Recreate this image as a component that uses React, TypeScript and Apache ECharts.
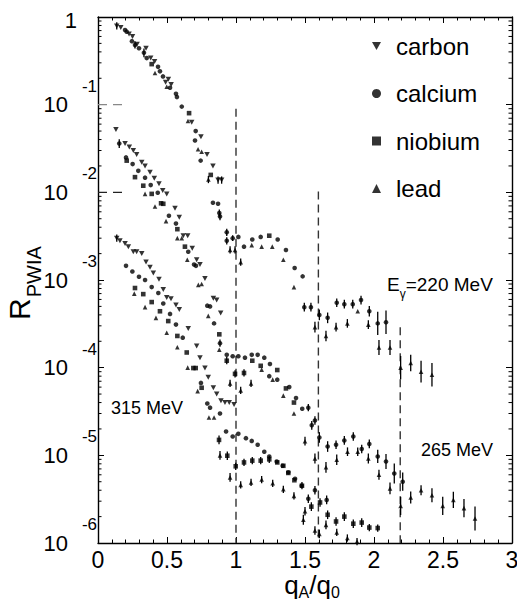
import React, { useEffect, useRef } from "react";
import * as echarts from "echarts";

// [q_A/q_0, R_PWIA, relative error (0 = none)]
const C220 = [[0.136,0.79,0.1],[0.165,0.76,0],[0.225,0.64,0],[0.25,0.6,0],[0.283,0.49,0],[0.348,0.44,0],[0.382,0.34,0],[0.41,0.31,0],[0.49,0.18,0],[0.51,0.195,0],[0.53,0.17,0],[0.679,0.063,0],[0.746,0.043,0],[0.79,0.027,0],[0.833,0.02,0],[0.87,0.0138,0.1],[0.896,0.0138,0.1]];
const CA220 = [[0.196,0.71,0],[0.208,0.68,0],[0.246,0.53,0],[0.268,0.48,0.1],[0.297,0.44,0],[0.333,0.39,0.12],[0.353,0.34,0],[0.435,0.27,0],[0.449,0.24,0],[0.471,0.21,0],[0.522,0.156,0],[0.565,0.133,0],[0.572,0.122,0],[0.607,0.095,0],[0.708,0.05,0],[0.703,0.039,0],[0.744,0.023,0],[0.833,0.0076,0],[0.87,0.0074,0],[0.879,0.0058,0.1],[0.884,0.0053,0.1],[0.933,0.0035,0.1],[0.933,0.0028,0.1],[0.976,0.003,0.08],[1.017,0.0031,0],[1.058,0.0024,0],[1.118,0.0029,0],[1.179,0.0031,0],[1.302,0.0029,0],[1.362,0.0022,0],[1.425,0.00137,0],[1.483,0.0011,0],[1.495,4.9e-4,0.12],[1.543,4.9e-4,0.12],[1.604,4.0e-4,0.15],[1.664,3.7e-4,0.15],[1.73,5.5e-4,0.12],[1.785,5.3e-4,0.12],[1.846,5.3e-4,0.12],[1.906,5.9e-4,0.12],[1.966,4.4e-4,0.15],[2.027,3.2e-4,0.36],[2.087,3.3e-4,0.36]];
const NB220 = [[0.389,0.29,0],[0.66,0.08,0],[0.817,0.0158,0],[1.241,0.0032,0]];
const PB220 = [[0.413,0.23,0],[0.498,0.16,0],[0.652,0.065,0],[0.725,0.031,0],[0.751,0.029,0],[0.8,0.014,0.1],[0.957,0.0022,0.1],[0.993,0.0022,0.1],[1.034,0.0016,0.1],[1.114,0.0025,0],[1.186,0.0024,0],[1.263,0.0024,0],[1.343,0.0017,0],[1.42,8.3e-4,0],[1.572,2.9e-4,0.15],[1.652,2.3e-4,0.15],[1.725,2.9e-4,0.12],[1.807,3.2e-4,0.12],[1.882,4.4e-4,0],[1.959,3.1e-4,0.12],[2.036,1.7e-4,0.22],[2.116,1.7e-4,0.22],[2.193,1.0e-4,0.36],[2.266,1.13e-4,0.24],[2.341,9.0e-5,0.33],[2.42,8.3e-5,0.36]];

const C265 = [[0.13,0.052,0],[0.196,0.036,0],[0.227,0.033,0],[0.256,0.03,0],[0.28,0.027,0],[0.317,0.022,0],[0.341,0.02,0],[0.377,0.017,0],[0.408,0.0145,0],[0.442,0.0125,0],[0.469,0.0105,0],[0.498,0.0096,0],[0.558,0.0066,0],[0.589,0.0052,0],[0.618,0.0032,0],[0.65,0.0032,0],[0.683,0.0023,0],[0.715,0.0017,0],[0.739,0.0015,0],[0.775,0.00104,0],[0.836,6.2e-4,0],[0.86,5.9e-4,0],[0.889,4.2e-4,0]];
const CA265 = [[0.154,0.036,0.12],[0.203,0.025,0],[0.251,0.021,0],[0.292,0.0176,0],[0.341,0.0147,0],[0.382,0.0121,0],[0.433,0.0099,0],[0.514,0.0054,0],[0.565,0.0044,0],[0.654,0.0021,0],[0.696,0.0015,0],[0.71,0.00145,0],[0.792,5.1e-4,0],[0.812,5.0e-4,0],[0.841,3.2e-4,0],[0.884,1.9e-4,0.1],[0.933,1.4e-4,0],[0.976,1.35e-4,0],[1.017,1.35e-4,0],[1.065,1.3e-4,0],[1.114,1.4e-4,0],[1.157,1.4e-4,0],[1.205,1.3e-4,0],[1.246,1.1e-4,0],[1.241,8.0e-5,0],[1.299,7.3e-5,0],[1.386,6.0e-5,0],[1.435,4.5e-5,0],[1.48,3.4e-5,0],[1.524,3.5e-5,0.1],[1.549,2.2e-5,0.12],[1.572,2.5e-5,0.12],[1.604,1.6e-5,0.15],[1.664,1.26e-5,0.15],[1.725,1.32e-5,0.12],[1.785,1.48e-5,0.12],[1.85,1.64e-5,0.12],[1.911,1.18e-5,0.12],[1.966,1.35e-5,0.12],[2.027,9.7e-6,0.19],[2.087,8.5e-6,0.22],[2.147,6.2e-6,0.3],[2.208,5.0e-6,0.27]];
const NB265 = [[0.208,0.023,0],[0.268,0.0149,0],[0.328,0.0119,0],[0.389,0.0096,0],[0.457,0.0075,0],[0.473,0.0074,0],[0.575,0.0038,0],[0.63,0.0024,0],[0.879,2.4e-4,0],[0.933,1.2e-4,0.1],[0.993,8.5e-5,0.1],[1.058,8.7e-5,0.1],[1.118,1.2e-4,0],[1.179,1.05e-4,0],[1.299,9.4e-5,0],[1.362,5.8e-5,0],[1.42,4.0e-5,0]];
const PB265 = [[0.341,0.0096,0],[0.413,0.0069,0],[0.493,0.0047,0],[0.575,0.003,0],[0.607,0.003,0],[0.647,0.0017,0],[0.727,8.8e-4,0],[0.751,9.0e-4,0],[0.799,3.9e-4,0],[0.879,1.6e-4,0],[0.957,6.6e-5,0.1],[1.034,5.5e-5,0.1],[1.109,6.6e-5,0.1],[1.186,9.5e-5,0],[1.266,7.3e-5,0],[1.343,4.8e-5,0],[1.42,3.0e-5,0],[1.5,1.45e-5,0.12],[1.572,9.2e-6,0.14],[1.652,7.3e-6,0.15],[1.73,8.9e-6,0.15],[1.808,1.1e-5,0.12],[1.882,1.1e-5,0.12],[1.959,9.2e-6,0.14],[2.036,6.0e-6,0.14],[2.116,4.2e-6,0.17],[2.193,2.65e-6,0.27],[2.266,3.3e-6,0.17],[2.341,4.0e-6,0.14],[2.42,3.5e-6,0.2],[2.498,2.65e-6,0.27],[2.575,3.1e-6,0.24],[2.652,2.5e-6,0.27],[2.732,1.9e-6,0.37]];

const C315 = [[0.136,0.003,0.1],[0.159,0.0028,0],[0.196,0.0026,0],[0.22,0.0024,0],[0.256,0.0021,0],[0.28,0.0021,0],[0.317,0.002,0],[0.348,0.0016,0],[0.377,0.0014,0],[0.401,0.0012,0],[0.442,0.00102,0],[0.473,7.8e-4,0],[0.498,6.3e-4,0],[0.529,6.1e-4,0],[0.565,5.2e-4,0],[0.589,4.6e-4,0],[0.654,2.8e-4,0],[0.715,1.77e-4,0],[0.739,1.3e-4,0],[0.775,9.9e-5,0],[0.799,7.8e-5,0],[0.836,5.9e-5,0],[0.86,5.0e-5,0],[0.891,4.2e-5,0],[0.92,4.0e-5,0],[0.951,4.0e-5,0],[0.986,3.8e-5,0]];
const CA315 = [[0.203,0.00145,0],[0.249,0.00125,0],[0.297,0.00109,0],[0.341,0.001,0],[0.389,8.3e-4,0],[0.437,7.1e-4,0],[0.473,5.4e-4,0],[0.522,4.1e-4,0],[0.565,3.1e-4,0],[0.614,2.2e-4,0],[0.746,6.7e-5,0],[0.792,3.9e-5,0],[0.812,3.5e-5,0],[0.884,3.0e-5,0],[0.928,1.87e-5,0],[0.976,1.64e-5,0],[1.017,1.76e-5,0],[1.072,1.57e-5,0],[1.114,1.46e-5,0],[1.157,1.32e-5,0],[1.205,1.1e-5,0],[1.241,9.7e-6,0],[1.295,8.5e-6,0],[1.338,7.6e-6,0],[1.379,6.4e-6,0],[1.428,5.4e-6,0],[1.476,4.5e-6,0],[1.524,3.2e-6,0.12],[1.572,4.0e-6,0.12],[1.657,3.1e-6,0.12]];
const NB315 = [[0.268,8.1e-4,0],[0.328,6.9e-4,0],[0.389,5.6e-4,0],[0.449,4.4e-4,0],[0.509,3.4e-4,0],[0.575,2.3e-4,0],[0.643,1.49e-4,0],[0.691,9.9e-5,0],[0.708,9.9e-5,0],[0.751,5.9e-5,0],[0.877,1.5e-5,0.12],[0.937,9.9e-6,0.12],[0.998,7.5e-6,0.1],[1.058,8.3e-6,0.1],[1.118,8.7e-6,0.1],[1.179,8.7e-6,0.1],[1.241,9.0e-6,0.1],[1.299,8.3e-6,0],[1.343,7.6e-6,0],[1.379,6.3e-6,0],[1.423,5.2e-6,0],[1.478,4.5e-6,0.1],[1.546,2.6e-6,0.12],[1.609,2.9e-6,0.12],[1.664,2.1e-6,0.12],[1.725,1.76e-6,0.12],[1.785,2.0e-6,0.12],[1.85,1.66e-6,0.12],[1.911,1.71e-6,0.12],[1.966,1.5e-6,0.1],[2.027,1.48e-6,0.1]];
const PB315 = [[0.263,7.0e-4,0],[0.341,4.9e-4,0],[0.42,3.7e-4,0],[0.498,2.5e-4,0],[0.575,1.71e-4,0],[0.65,1.0e-4,0],[0.722,5.4e-5,0],[0.804,2.7e-5,0],[0.841,2.7e-5,0],[0.884,1.0e-5,0.12],[0.957,5.6e-6,0.12],[1.034,4.6e-6,0.1],[1.109,4.9e-6,0.1],[1.186,5.3e-6,0.1],[1.266,4.8e-6,0.1],[1.343,4.1e-6,0.1],[1.42,3.45e-6,0.1],[1.488,1.84e-6,0.14],[1.5,2.3e-6,0.12],[1.572,1.39e-6,0.12],[1.604,1.27e-6,0.12],[1.652,1.61e-6,0.12],[1.73,1.32e-6,0.1],[1.807,1.14e-6,0.1],[1.877,1.04e-6,0.1]];

const ELEMENTS = ["carbon", "calcium", "niobium", "lead"];
const GROUPS = [
  [C220, CA220, NB220, PB220],
  [C265, CA265, NB265, PB265],
  [C315, CA315, NB315, PB315],
];
const SYMBOLS = ["path://M0,0L10,0L5,9Z", "circle", "rect", "triangle"];

// dashed guide lines: [x, top y]
const VLINES = [[1.0, 0.09], [1.597, 0.0102], [2.19, 2.9e-4]];
const HDASH = [[0.1, 0.21, "#888"], [0.01, 0.2, "#222"]];

const Y_MIN = 1e-6;
const Y_MAX = 1;
const MINOR_TICKS: number[] = [];
for (let e = -6; e < 0; e++) for (let k = 2; k <= 9; k++) MINOR_TICKS.push(k * Math.pow(10, e));

const FONT = '"Liberation Sans", Arial, Helvetica, sans-serif';

export default function App() {
  const ref = useRef<HTMLDivElement>(null);
  useEffect(() => {
    if (!ref.current) return;
    const chart = echarts.init(ref.current, null, { renderer: "svg" });

    const series: any[] = [];
    GROUPS.forEach((g) => {
      g.forEach((pts, i) => {
        series.push({
          type: "scatter",
          name: ELEMENTS[i],
          data: pts.map((p) => [p[0], p[1]]),
          symbol: SYMBOLS[i],
          symbolSize: i === 0 ? [5.5, 5] : 4.6,
          itemStyle: { color: "#000" },
          z: 4,
        });
      });
    });

    const errData: number[][] = [];
    GROUPS.forEach((g) => g.forEach((pts) => pts.forEach((p) => {
      if (p[2] > 0) errData.push([p[0], p[1] / (1 + p[2]), p[1] * (1 + p[2])]);
    })));

    series.push({
      type: "custom",
      name: "errors",
      data: errData,
      encode: { x: 0, y: [1, 2] },
      silent: true,
      z: 3,
      renderItem: (params: any, api: any) => {
        const x = api.value(0);
        const a = api.coord([x, api.value(1)]);
        const b = api.coord([x, api.value(2)]);
        return { type: "line", shape: { x1: a[0], y1: a[1], x2: b[0], y2: b[1] }, style: { stroke: "#000", lineWidth: 1.3 } };
      },
    });

    series.push({
      type: "custom",
      name: "minorTicks",
      data: MINOR_TICKS.map((v) => [0, v]),
      encode: { x: 0, y: 1 },
      silent: true,
      clip: false,
      renderItem: (params: any, api: any) => {
        const cs = params.coordSys;
        const p = api.coord([0, api.value(1)]);
        return {
          type: "group",
          children: [
            { type: "line", shape: { x1: cs.x, y1: p[1], x2: cs.x + 3.5, y2: p[1] }, style: { stroke: "#000", lineWidth: 1 } },
            { type: "line", shape: { x1: cs.x + cs.width - 3.5, y1: p[1], x2: cs.x + cs.width, y2: p[1] }, style: { stroke: "#000", lineWidth: 1 } },
          ],
        };
      },
    });

    VLINES.forEach((v) => {
      series.push({
        type: "line",
        name: "guide",
        data: [[v[0], v[1]], [v[0], Y_MIN]],
        symbol: "none",
        silent: true,
        lineStyle: { color: "#333", width: 1.4, type: [8, 5] },
        z: 2,
      });
    });
    HDASH.forEach((h: any) => {
      series.push({
        type: "line",
        name: "hguide",
        data: [[0, h[0]], [h[1], h[0]]],
        symbol: "none",
        silent: true,
        lineStyle: { color: h[2], width: 1.3, type: [9, 6] },
        z: 2,
      });
    });

    const xCommon = {
      type: "value",
      min: 0,
      max: 3,
      interval: 0.5,
      splitLine: { show: false },
      axisLine: { show: true, onZero: false, lineStyle: { color: "#000", width: 1.4 } },
      axisTick: { show: true, inside: true, length: 6, lineStyle: { color: "#000", width: 1 } },
      minorTick: { show: true, splitNumber: 5, length: 3.5, lineStyle: { color: "#000", width: 1 } },
    };
    const yCommon = {
      type: "log",
      logBase: 10,
      min: Y_MIN,
      max: Y_MAX,
      splitNumber: 6,
      splitLine: { show: false },
      axisLine: { show: true, onZero: false, lineStyle: { color: "#000", width: 1.4 } },
      axisTick: { show: true, inside: true, length: 6, lineStyle: { color: "#000", width: 1 } },
      minorTick: { show: false },
    };

    chart.setOption({
      animation: false,
      backgroundColor: "#fff",
      textStyle: { fontFamily: FONT },
      grid: { left: 98, right: 5, top: 17, bottom: 58, containLabel: false, outerBoundsMode: "none" },
      legend: {
        data: ELEMENTS,
        orient: "vertical",
        left: 367,
        top: 29,
        itemWidth: 9,
        itemHeight: 9,
        itemGap: 23.5,
        selectedMode: false,
        textStyle: { fontSize: 24, color: "#000", fontFamily: FONT, padding: [0, 0, 0, 10] },
      },
      xAxis: [
        {
          ...xCommon,
          position: "bottom",
          axisLabel: { fontSize: 23, lineHeight: 23, color: "#000", margin: 5, fontFamily: FONT },
          name: "{m0|q}{s|A}{m|/q}{s|0}",
          nameLocation: "middle",
          nameGap: 30,
          nameMoveOverlap: false,
          nameTextStyle: {
            rich: {
              m0: { fontSize: 26, lineHeight: 26, padding: [0, 0, 3, 14], fontFamily: FONT, color: "#000" },
              m: { fontSize: 26, lineHeight: 26, padding: [0, 0, 3, 0], fontFamily: FONT, color: "#000" },
              s: { fontSize: 16, lineHeight: 16, padding: [13, 0, 0, 0], fontFamily: FONT, color: "#000" },
            },
          },
        },
        { ...xCommon, position: "top", axisLabel: { show: false } },
      ],
      yAxis: [
        {
          ...yCommon,
          position: "left",
          axisLabel: {
            margin: 1,
            showMinLabel: true,
            showMaxLabel: true,
            formatter: (v: number) => {
              const e = Math.round(Math.log10(v));
              return e === 0 ? "{one|1}" : `{b|10}{e|${e}}`;
            },
            rich: {
              b: { fontSize: 22, lineHeight: 22, padding: [16, 3, 16, 0], fontFamily: FONT, color: "#000" },
              e: { fontSize: 17, lineHeight: 17, padding: [0, 0, 37, 11], fontFamily: FONT, color: "#000" },
              one: { fontSize: 22, lineHeight: 22, padding: [6, 20, 0, 0], fontFamily: FONT, color: "#000" },
            },
          },
          name: "{r|R}{s|PWIA}",
          nameLocation: "middle",
          nameGap: 59,
          nameMoveOverlap: false,
          nameTextStyle: {
            rich: {
              r: { fontSize: 30, lineHeight: 30, padding: [0, 0, 9, 0], fontFamily: FONT, color: "#000" },
              s: { fontSize: 20, lineHeight: 20, padding: [19, 6, 0, 1], fontFamily: FONT, color: "#000" },
            },
          },
        },
        { ...yCommon, position: "right", axisLabel: { show: false } },
      ],
      graphic: [
        { type: "text", x: 111, y: 408, style: { text: "315 MeV", font: `18px ${FONT}`, fill: "#000", verticalAlign: "middle" } },
        { type: "text", x: 421, y: 450, style: { text: "265 MeV", font: `18px ${FONT}`, fill: "#000", verticalAlign: "middle" } },
        {
          type: "text",
          x: 387,
          y: 278,
          style: {
            text: "{a|E}{g|γ}{a|=220 MeV}",
            fill: "#000",
            rich: {
              a: { fontSize: 19, lineHeight: 19, padding: [0, 0, 6, 0], fontFamily: FONT, fill: "#000" },
              g: { fontSize: 12, lineHeight: 12, padding: [13, 0, 0, 0], fontFamily: FONT, fill: "#000" },
            },
          },
        },
      ],
      series,
    });
    return () => chart.dispose();
  }, []);
  return <div ref={ref} style={{ position: "absolute", left: 0, top: 0, width: 517, height: 601 }} />;
}
